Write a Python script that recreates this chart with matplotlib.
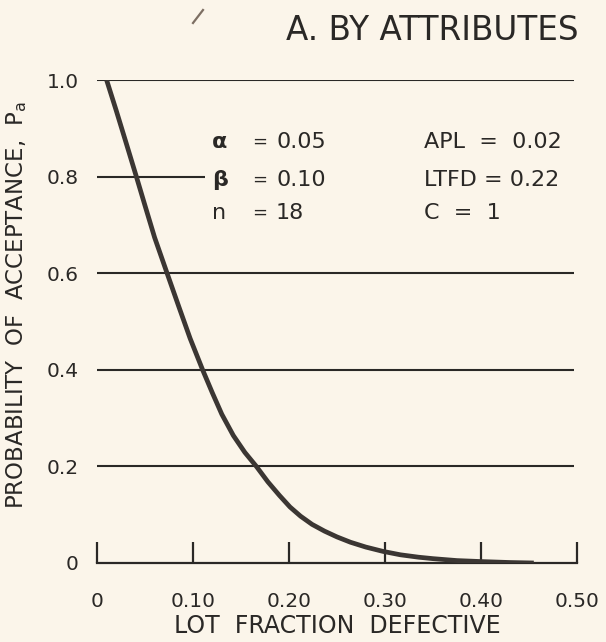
import matplotlib
matplotlib.use("Agg")
import matplotlib.pyplot as plt
from matplotlib.lines import Line2D

# ---- data ----
lot_fraction = [0.010, 0.020, 0.030, 0.041, 0.050, 0.060, 0.073, 0.085, 0.097,
                0.110, 0.120, 0.130, 0.142, 0.154, 0.166, 0.178, 0.190, 0.201,
                0.212, 0.224, 0.237, 0.250, 0.264, 0.280, 0.298, 0.316, 0.335,
                0.350, 0.375, 0.400, 0.430, 0.455]
prob_accept = [1.000, 0.937, 0.872, 0.800, 0.740, 0.674, 0.600, 0.532, 0.465,
               0.400, 0.353, 0.308, 0.264, 0.229, 0.200, 0.168, 0.140, 0.116,
               0.097, 0.080, 0.066, 0.054, 0.043, 0.033, 0.024, 0.017, 0.012,
               0.009, 0.005, 0.003, 0.001, 0.000]
x_ticks = [0, 0.10, 0.20, 0.30, 0.40, 0.50]
x_tick_labels = ["0", "0.10", "0.20", "0.30", "0.40", "0.50"]
y_ticks = [0, 0.2, 0.4, 0.6, 0.8, 1.0]
y_tick_labels = ["0", "0.2", "0.4", "0.6", "0.8", "1.0"]
left_params = [("α", "0.05"), ("β", "0.10"), ("n", "18")]
right_params = ["APL  =  0.02", "LTFD = 0.22", "C  =  1"]

BG = "#fbf5ea"
INK = "#2a2826"
CURVE = "#3b3633"

W, H = 606, 642
fig = plt.figure(figsize=(W / 100, H / 100), dpi=100, facecolor=BG)
ax = fig.add_axes([97 / W, 1 - 563 / H, 480 / W, 483 / H])
ax.set_facecolor(BG)
ax.set_xlim(0, 0.5)
ax.set_ylim(0, 1.0)

for s in ["top", "right", "left"]:
    ax.spines[s].set_visible(False)
ax.spines["bottom"].set_color(INK)
ax.spines["bottom"].set_linewidth(1.6)

# horizontal rules
for yv in y_ticks[1:]:
    xmax = 0.112 if abs(yv - 0.8) < 1e-9 else 0.497
    ax.hlines(yv, 0, xmax, color=INK, linewidth=1.5, zorder=1)

ax.plot(lot_fraction, prob_accept, color=CURVE, linewidth=3.4,
        solid_capstyle="butt", solid_joinstyle="round", zorder=3)

ax.set_xticks(x_ticks)
ax.set_xticklabels(x_tick_labels)
ax.set_yticks(y_ticks)
ax.set_yticklabels(y_tick_labels)
ax.tick_params(axis="x", direction="in", length=15, width=1.6, color=INK,
               pad=21, labelsize=14.5, labelcolor=INK)
ax.tick_params(axis="y", length=0, pad=13, labelsize=14.5, labelcolor=INK)

ax.set_xlabel("LOT  FRACTION  DEFECTIVE", fontsize=17, color=INK, labelpad=2)
ax.set_ylabel(r"PROBABILITY  OF  ACCEPTANCE,  P$_\mathregular{a}$",
              fontsize=16.5, color=INK)
ax.yaxis.set_label_coords(-0.142, 0.535)

# parameter block
def fx(px):
    return px / W

def fy(py):
    return 1 - py / H

rows_y = [142, 180, 213]
for (sym, val), yy in zip(left_params, rows_y):
    fig.text(fx(212), fy(yy), sym, fontsize=16, color=INK, va="center",
             ha="left", fontweight="bold" if sym in "αβ" else "normal")
    fig.text(fx(252), fy(yy), "=", fontsize=13, color=INK, va="center", ha="left")
    fig.text(fx(276), fy(yy), val, fontsize=16, color=INK, va="center", ha="left")
for txt, yy in zip(right_params, rows_y):
    fig.text(fx(424), fy(yy), txt, fontsize=16, color=INK, va="center", ha="left")

fig.text(fx(579), fy(30), "A. BY ATTRIBUTES", fontsize=23.5, color=INK,
         va="center", ha="right")

# small pen stroke near top
fig.add_artist(Line2D([fx(193), fx(203)], [fy(23), fy(10)],
                      color="#7d6f63", linewidth=1.6))

fig.savefig("out.png", dpi=100, facecolor=BG)
